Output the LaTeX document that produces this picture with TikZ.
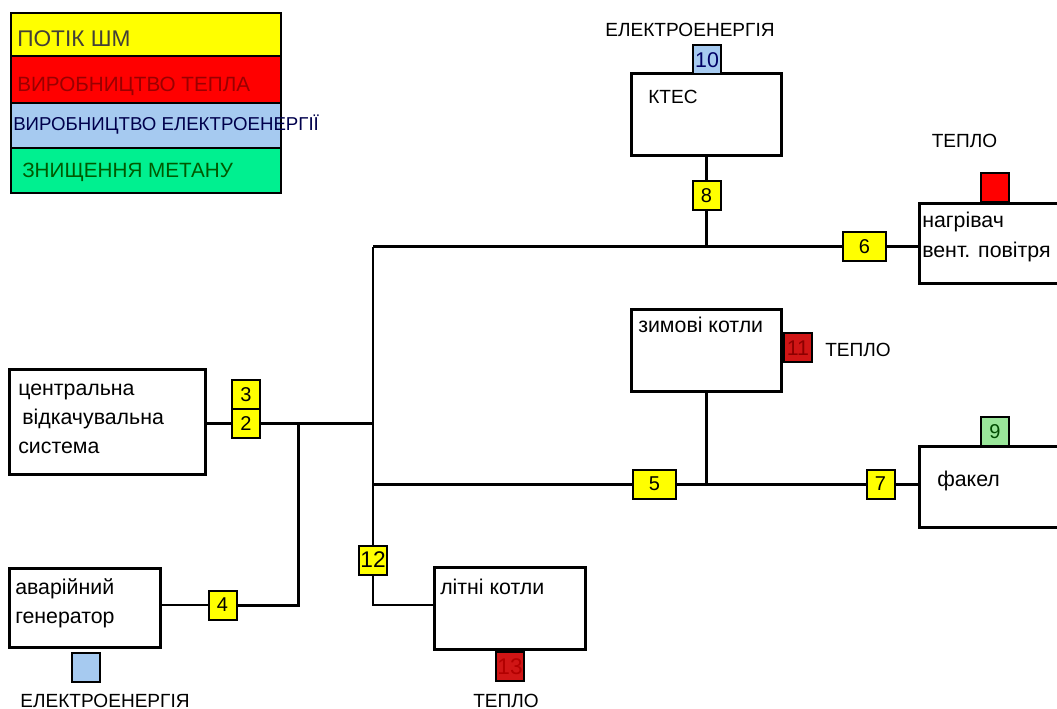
\documentclass[tikz,border=0pt]{standalone}
\usepackage{fontspec}
\setmainfont{Liberation Sans}
\usetikzlibrary{positioning}

\definecolor{shm}{HTML}{FFFF00}
\definecolor{teplo}{HTML}{FF0000}
\definecolor{teplod}{HTML}{D01515}
\definecolor{elek}{HTML}{A6CAF0}
\definecolor{metan}{HTML}{00F090}
\definecolor{metanl}{HTML}{99E699}

\newcommand{\lowtxt}{\fontsize{16}{18}\selectfont}
\newcommand{\captxt}{\fontsize{14.3}{16}\selectfont}
\newcommand{\numtxt}{\fontsize{15}{15}\selectfont}

\begin{document}
\begin{tikzpicture}[x=0.75pt,y=-0.75pt,
    blok/.style 2 args={draw,line width=2.25pt,fill=white,inner sep=0pt,
        minimum width=#1*0.75pt,minimum height=#2*0.75pt},
    num/.style={draw,line width=1.5pt,inner sep=0pt,minimum width=21pt,
        minimum height=21.75pt,font=\numtxt},
    wide/.style={minimum width=32.25pt},
    leg/.style={draw,line width=1.5pt,inner sep=0pt,minimum width=202.5pt},
    txt/.style={inner sep=0pt,anchor=base west,font=\lowtxt},
    capslab/.style={inner sep=0pt,anchor=base,font=\captxt},
    pipe/.style={line width=2.25pt},
    thinpipe/.style={line width=1.5pt}]
    \useasboundingbox (0,0) rectangle (1057,709);

    \node[leg,fill=shm,minimum height=32.25pt] (lshm) at (146,34.5) {};
    \node[leg,fill=teplo,minimum height=35.25pt] (lteplo) at (146,79.5) {};
    \node[leg,fill=elek,minimum height=33.75pt] (lelek) at (146,125.5) {};
    \node[leg,fill=metan,minimum height=33.75pt] (lmetan) at (146,170.5) {};
    \node[txt,font=\fontsize{17}{18}\selectfont,text=black!85!yellow] (tshm) at (17,47) {ПОТІК ШМ};
    \node[txt,font=\fontsize{15.5}{17}\selectfont,text=red!60!black] (tteplo) at (17,92) {ВИРОБНИЦТВО ТЕПЛА};
    \node[txt,font=\fontsize{14}{15}\selectfont,text=blue!30!black] (telek) at (13,131) {ВИРОБНИЦТВО ЕЛЕКТРОЕНЕРГІЇ};
    \node[txt,font=\fontsize{15.5}{17}\selectfont,text=green!35!black] (tmetan) at (22,178) {ЗНИЩЕННЯ МЕТАНУ};

    \node[blok={150}{82}] (ktes) at (706.5,114.5) {};
    \node[blok={144}{80}] (heat) at (991.5,243.5) {};
    \node[blok={150}{82}] (zim) at (706.5,350.5) {};
    \node[blok={144}{81}] (fak) at (991.5,487) {};
    \node[blok={196}{105}] (cvs) at (107.5,422) {};
    \node[blok={151}{79}] (gen) at (85,608) {};
    \node[blok={151}{82}] (lit) at (510,608.5) {};

    \node[num,fill=elek,text=blue!40!black,font=\fontsize{16}{16}\selectfont] (n10) at (707,60) {10};
    \node[num,fill=shm] (n8) at (706.5,196) {8};
    \node[num,wide,fill=shm] (n6) at (864.5,247) {6};
    \node[num,fill=shm] (n3) at (246,394.5) {3};
    \node[num,fill=shm] (n2) at (246,423.5) {2};
    \node[num,fill=shm] (n4) at (222.5,605) {4};
    \node[num,wide,fill=shm] (n5) at (654.5,484) {5};
    \node[num,fill=shm] (n7) at (880.5,484) {7};
    \node[num,fill=metanl,text=green!30!black] (n9) at (995,431.5) {9};
    \node[num,fill=teplod,text=red!55!black,font=\fontsize{16}{16}\selectfont] (n11) at (798,348) {11};
    \node[num,fill=shm,font=\fontsize{17}{17}\selectfont] (n12) at (373,560) {12};
    \node[num,fill=teplod,text=red!70!black,font=\fontsize{17}{17}\selectfont] (n13) at (510,666.5) {13};
    \node[num,fill=teplo] (hred) at (995,188) {};
    \node[num,fill=elek] (gblue) at (85.5,667.5) {};

    \node[capslab] (el1) at (690,37) {ЕЛЕКТРОЕНЕРГІЯ};
    \node[txt,font=\captxt] (tktes) at (648,104) {КТЕС};
    \node[capslab] (tp1) at (964.5,148) {ТЕПЛО};
    \node[txt] (theat1) at (922,228) {нагрівач};
    \node[txt] (theat2) at (922,258) {вент. повітря};
    \node[txt] (tzim) at (638,333) {зимові котли};
    \node[txt,font=\captxt] (tp2) at (825,357) {ТЕПЛО};
    \node[txt] (tfak) at (937,486) {факел};
    \node[txt] (tlit) at (440,594) {літні котли};
    \node[capslab] (tp3) at (506,707) {ТЕПЛО};
    \node[capslab] (el2) at (105,707) {ЕЛЕКТРОЕНЕРГІЯ};
    \node[txt] (tcvs1) at (18,396) {центральна};
    \node[txt] (tcvs2) at (22,424.5) {відкачувальна};
    \node[txt] (tcvs3) at (18,453) {система};
    \node[txt] (tgen1) at (15,594) {аварійний};
    \node[txt] (tgen2) at (15,623) {генератор};

    \coordinate (jt) at (373,247);
    \coordinate (jb) at (373,605);
    \coordinate (jl) at (373,484);
    \coordinate (jm) at (373,423.5);
    \coordinate (jg) at (298,423.5);

    \draw[pipe] (n2.west -| cvs.east) -- (n2.west);
    \draw[pipe] (n2.east) -- (jm);
    \draw[pipe] (jg) -- (jg |- n4.east) -- (n4.east);
    \draw[thinpipe] (n4.west) -- (n4.west -| gen.east);
    \draw[thinpipe] (jt) -- (n12.north);
    \draw[thinpipe] (n12.south) -- (jb) -- (jb -| lit.west);
    \draw[pipe] (jt) -- (n6.west);
    \draw[pipe] (ktes.south) -- (n8.north);
    \draw[pipe] (n8.south) -- (n8.south |- jt);
    \draw[pipe] (n6.east) -- (n6.east -| heat.west);
    \draw[pipe] (jl) -- (n5.west);
    \draw[pipe] (n5.east) -- (n7.west);
    \draw[pipe] (zim.south) -- (zim.south |- jl);
    \draw[pipe] (n7.east) -- (n7.east -| fak.west);
\end{tikzpicture}
\end{document}
